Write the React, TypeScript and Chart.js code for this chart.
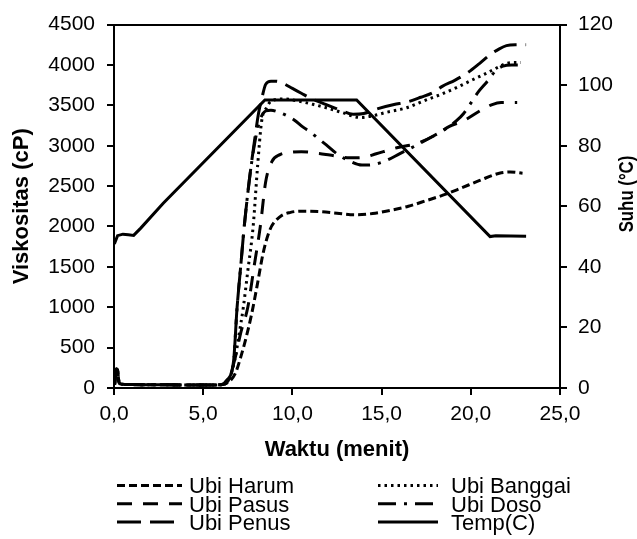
import React, { useEffect, useRef } from "react";
import { Chart, registerables } from "chart.js";

Chart.register(...registerables);

const FONT = '"Liberation Sans", Arial, Helvetica, sans-serif';

// ---------- data ----------
const seriesLabels = ["Ubi Harum", "Ubi Pasus", "Ubi Penus", "Ubi Banggai", "Ubi Doso", "Temp(C)"];
const xTitle = "Waktu (menit)";
const leftTitle = "Viskositas (cP)";
const rightTitle = "Suhu (°C)";

// common start of every viscosity curve (small spike, then flat)
const startTime = [0.03, 0.08, 0.13, 0.2, 0.28, 0.4, 1.0, 2.5, 4.0, 5.5];
const startVisc = [40, 150, 235, 220, 70, 48, 42, 40, 38, 38];

const harumTime = [6.0, 6.4, 6.8, 7.1, 7.4, 7.7, 8.0, 8.37, 8.74, 9.3, 9.9, 10.5, 11.5, 12.5, 13.5, 14.5, 15.5, 16.5, 17.5, 18.6, 19.5, 20.5, 21.6, 22.2, 22.9];
const harumVisc = [40, 70, 180, 380, 620, 900, 1240, 1680, 1960, 2120, 2175, 2190, 2185, 2165, 2145, 2160, 2200, 2250, 2320, 2400, 2480, 2570, 2660, 2675, 2660];

const pasusTime = [6.0, 6.4, 6.8, 7.1, 7.5, 7.85, 8.2, 8.5, 8.84, 9.3, 9.96, 10.5, 11.5, 12.1, 13.2, 14.0, 14.7, 15.85, 17.0, 18.0, 18.8, 19.6, 20.5, 21.2, 21.7, 22.6];
const pasusVisc = [40, 90, 380, 680, 1000, 1500, 2000, 2550, 2800, 2890, 2920, 2925, 2905, 2885, 2850, 2855, 2900, 2975, 3030, 3130, 3240, 3310, 3430, 3510, 3535, 3535];

const penusTime = [6.0, 6.3, 6.7, 6.9, 7.1, 7.3, 7.6, 7.9, 8.1, 8.3, 8.5, 8.8, 9.1, 9.5, 10.0, 10.5, 11.0, 11.9, 12.7, 13.4, 14.0, 14.8, 15.7, 16.4, 17.2, 17.9, 18.4, 19.1, 19.8, 20.5, 21.1, 21.6, 22.0, 22.5, 23.1];
const penusVisc = [40, 90, 330, 1000, 1500, 2000, 2600, 3100, 3400, 3600, 3760, 3800, 3800, 3770, 3710, 3650, 3590, 3510, 3440, 3390, 3400, 3460, 3510, 3540, 3600, 3660, 3735, 3810, 3900, 4020, 4130, 4200, 4240, 4250, 4250];

const banggaiTime = [6.0, 6.4, 6.8, 7.0, 7.25, 7.5, 7.8, 8.05, 8.28, 8.56, 8.8, 9.5, 10.4, 11.2, 11.9, 12.8, 13.8, 14.5, 15.2, 16.4, 17.3, 18.3, 19.2, 20.1, 20.9, 21.6, 22.0, 22.4, 22.8];
const banggaiVisc = [40, 90, 380, 650, 1000, 1450, 2000, 2750, 3310, 3475, 3550, 3580, 3550, 3510, 3470, 3410, 3350, 3370, 3410, 3470, 3550, 3634, 3720, 3817, 3900, 3980, 4020, 4030, 4030];

const dosoTime = [6.0, 6.3, 6.7, 6.9, 7.1, 7.3, 7.6, 7.9, 8.2, 8.5, 8.8, 9.3, 9.7, 10.1, 10.6, 11.0, 11.5, 11.9, 12.5, 13.2, 13.9, 14.6, 15.3, 16.0, 16.9, 17.9, 18.6, 19.2, 19.6, 19.95, 20.4, 20.9, 21.4, 21.8, 22.3, 22.8];
const dosoVisc = [40, 90, 330, 1000, 1500, 2000, 2600, 3050, 3330, 3430, 3440, 3410, 3370, 3320, 3230, 3170, 3080, 3010, 2900, 2810, 2760, 2770, 2820, 2900, 3000, 3120, 3210, 3310, 3400, 3510, 3660, 3790, 3930, 3985, 4000, 4000];

const tempTime = [0.02, 0.2, 0.5, 0.8, 1.1, 1.5, 2.76, 8.46, 13.6, 21.08, 21.4, 23.1];
const tempVals = [47.6, 50.3, 50.8, 50.6, 50.4, 52.8, 61.0, 95.1, 95.1, 50.0, 50.3, 50.1];

const xMin = 0, xMax = 25, xStep = 5;
const yMin = 0, yMax = 4500, yStep = 500;
const y1Min = 0, y1Max = 120, y1Step = 20;

// ---------- helpers ----------
function pts(t: number[], v: number[], withStart: boolean) {
  const tt = withStart ? [...startTime, ...t] : t;
  const vv = withStart ? [...startVisc, ...v] : v;
  return tt.map((x, i) => ({ x, y: vv[i] }));
}

const legendPlugin = {
  id: "customLegendAndRightTitle",
  afterDraw(chart: any) {
    const ctx: CanvasRenderingContext2D = chart.ctx;
    ctx.save();
    // right axis title (reads bottom to top)
    ctx.save();
    ctx.translate(chart.width - 10, 194);
    ctx.rotate(-Math.PI / 2);
    ctx.scale(0.8, 1);
    ctx.font = `bold 21px ${FONT}`;
    ctx.fillStyle = "#000";
    ctx.textAlign = "center";
    ctx.textBaseline = "middle";
    ctx.fillText(rightTitle, 0, 0);
    ctx.restore();

    // legend: two columns, three rows
    const colLine = [[117, 182], [378, 438]];
    const colText = [189, 451];
    const rowBase = [493.3, 511.7, 530];
    ctx.font = `22px ${FONT}`;
    ctx.textAlign = "left";
    ctx.textBaseline = "alphabetic";
    chart.data.datasets.forEach((ds: any, i: number) => {
      const col = Math.floor(i / 3);
      const row = i % 3;
      const ly = rowBase[row] - 7.9;
      ctx.save();
      ctx.strokeStyle = "#000";
      ctx.lineWidth = ds.borderWidth;
      ctx.lineCap = "butt";
      ctx.setLineDash(ds.borderDash || []);
      ctx.beginPath();
      ctx.moveTo(colLine[col][0], ly);
      ctx.lineTo(colLine[col][1], ly);
      ctx.stroke();
      ctx.restore();
      ctx.fillStyle = "#000";
      ctx.fillText(ds.label, colText[col], rowBase[row]);
    });
    ctx.restore();
  },
};

export default function App() {
  const ref = useRef<HTMLCanvasElement | null>(null);

  useEffect(() => {
    if (!ref.current) return;
    const common = {
      borderColor: "#000",
      backgroundColor: "#000",
      borderWidth: 3,
      pointRadius: 0,
      fill: false,
      cubicInterpolationMode: "monotone" as const,
    };
    const chart = new Chart(ref.current, {
      type: "line",
      data: {
        datasets: [
          { ...common, label: seriesLabels[0], data: pts(harumTime, harumVisc, true), borderDash: [8, 4], yAxisID: "y" },
          { ...common, label: seriesLabels[1], data: pts(pasusTime, pasusVisc, true), borderDash: [15, 11], yAxisID: "y" },
          { ...common, label: seriesLabels[2], data: pts(penusTime, penusVisc, true), borderDash: [24, 9], yAxisID: "y" },
          { ...common, label: seriesLabels[3], data: pts(banggaiTime, banggaiVisc, true), borderDash: [2.5, 4], yAxisID: "y" },
          { ...common, label: seriesLabels[4], data: pts(dosoTime, dosoVisc, true), borderDash: [18, 8, 3, 8], yAxisID: "y" },
          { ...common, label: seriesLabels[5], data: pts(tempTime, tempVals, false), borderDash: [], cubicInterpolationMode: "default", tension: 0, yAxisID: "y1" },
        ],
      },
      options: {
        responsive: false,
        animation: false,
        events: [],
        layout: { padding: 0 },
        plugins: { legend: { display: false }, tooltip: { enabled: false }, title: { display: false } },
        scales: {
          x: {
            type: "linear",
            position: "bottom",
            min: xMin,
            max: xMax,
            afterFit: (s: any) => { s.height = 151; },
            ticks: {
              stepSize: xStep,
              color: "#000",
              font: { family: FONT, size: 21 },
              padding: 7,
              maxRotation: 0,
              callback: (v: any) => Number(v).toFixed(1).replace(".", ","),
            },
            grid: { display: true, drawOnChartArea: false, drawTicks: true, tickLength: 7, color: "#000", lineWidth: 2 },
            border: { display: true, color: "#000", width: 2 },
            title: { display: true, text: xTitle, color: "#000", font: { family: FONT, size: 22, weight: "bold" }, padding: { top: 0, bottom: 76 } },
          },
          xTop: {
            type: "linear",
            position: "top",
            min: xMin,
            max: xMax,
            afterFit: (s: any) => { s.height = 19; },
            ticks: { display: false },
            grid: { display: false },
            border: { display: true, color: "#000", width: 2 },
          },
          y: {
            type: "linear",
            position: "left",
            min: yMin,
            max: yMax,
            afterFit: (s: any) => { s.width = 114; },
            ticks: { stepSize: yStep, color: "#000", font: { family: FONT, size: 21 }, padding: 12, callback: (v: any) => String(v) },
            grid: { display: true, drawOnChartArea: false, drawTicks: true, tickLength: 7, color: "#000", lineWidth: 2 },
            border: { display: true, color: "#000", width: 2 },
            title: { display: true, text: leftTitle, color: "#000", font: { family: FONT, size: 22, weight: "bold" }, padding: { top: 9, bottom: 0 } },
          },
          y1: {
            type: "linear",
            position: "right",
            min: y1Min,
            max: y1Max,
            afterFit: (s: any) => { s.width = 77; },
            ticks: { stepSize: y1Step, color: "#000", font: { family: FONT, size: 21 }, padding: 11, callback: (v: any) => String(v) },
            grid: { display: true, drawOnChartArea: false, drawTicks: true, tickLength: 7, color: "#000", lineWidth: 2 },
            border: { display: true, color: "#000", width: 2 },
          },
        },
      },
      plugins: [legendPlugin],
    } as any);
    return () => chart.destroy();
  }, []);

  return (
    <div style={{ position: "absolute", left: 0, top: 0, width: 637, height: 539, background: "#fff" }}>
      <canvas ref={ref} width={637} height={539} style={{ display: "block", width: 637, height: 539 }} />
    </div>
  );
}
